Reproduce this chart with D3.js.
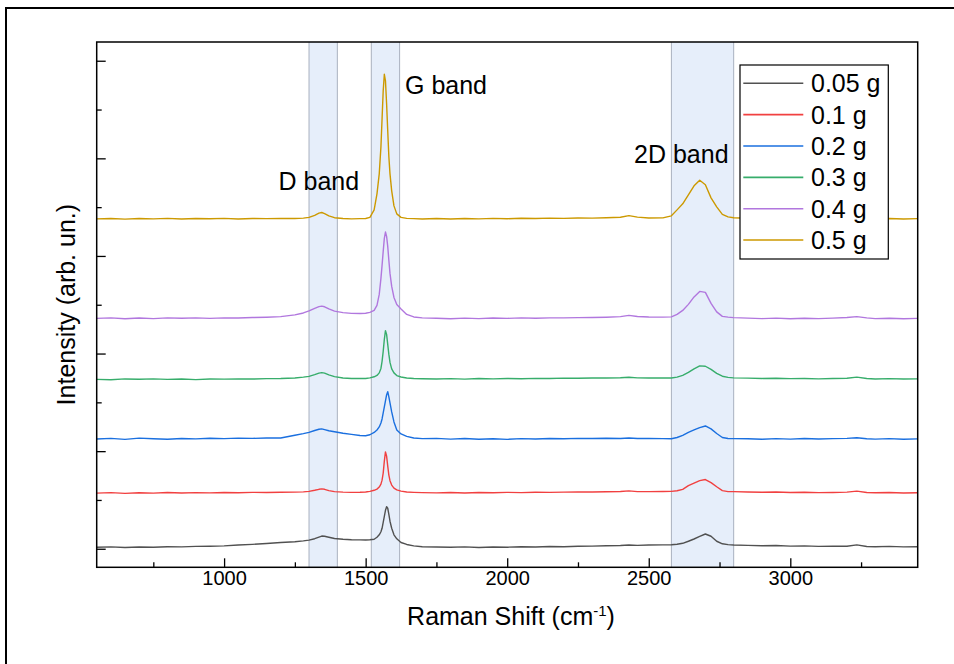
<!DOCTYPE html>
<html>
<head>
<meta charset="utf-8">
<script src="https://cdn.jsdelivr.net/npm/d3@7"></script>
<style>
body { margin: 0; background: #fff; }
svg text { font-family: "Liberation Sans", Arial, sans-serif; fill: #000; }
</style>
</head>
<body>
<div class="chart"></div>
<script>
// Raman shift grid (cm-1), denser around the peaks
const shift = [
  550, 600, 650, 700, 750, 800, 850, 900, 950, 1000, 1050, 1100, 1150, 1200,
  1250, 1280, 1300, 1320, 1335, 1345, 1355, 1370, 1390, 1420, 1450, 1480, 1500, 1515, 1530, 1540,
  1548, 1554, 1558, 1562, 1566, 1570, 1574, 1578, 1582, 1586, 1592, 1600, 1610, 1625, 1645, 1670, 1700,
  1750, 1800, 1850, 1900, 1950, 2000, 2050, 2100, 2150, 2200, 2250, 2300, 2350, 2400, 2430, 2460, 2500, 2550,
  2580, 2600, 2620, 2640, 2660, 2680, 2700, 2720, 2740, 2760, 2780, 2800,
  2850, 2900, 2950, 3000, 3050, 3100, 3150, 3200, 3235, 3270, 3300, 3350, 3400, 3450
];

// intensities (arb. un.) above each trace's own baseline
const g005 = [
  0, 4, -2, 3, 1, 5, 4, 9, 11, 15, 23, 30, 39, 49,
  57, 66, 74, 88, 105, 115, 113, 103, 90, 82, 78, 76, 75, 78, 82, 103,
  128, 159, 195, 256, 318, 379, 416, 400, 338, 267, 195, 128, 87, 49, 29, 15, 6,
  3, 0, 4, -2, 3, 1, 6, 3, 8, 5, 10, 12, 16, 19, 23, 20, 24, 25,
  26, 31, 41, 62, 85, 111, 136, 113, 62, 36, 27, 24,
  20, 16, 18, 12, 14, 9, 11, 10, 25, 8, 6, 9, 4, 6
];
const g01 = [
  0, 5, -3, 4, 0, 6, 2, 5, 3, 7, 4, 8, 6, 9,
  10, 13, 18, 29, 39, 43, 39, 26, 15, 10, 8, 9, 12, 18, 29, 41,
  62, 92, 133, 205, 328, 423, 379, 277, 185, 128, 82, 51, 33, 21, 12, 8, 5,
  3, 6, 2, 7, 4, 8, 5, 9, 8, 10, 12, 11, 14, 16, 23, 15, 15, 16,
  18, 24, 39, 77, 103, 128, 139, 108, 65, 26, 15, 15,
  12, 9, 11, 6, 9, 5, 7, 10, 20, 7, 4, 6, 2, 4
];
const g02 = [
  0, 6, -4, 8, 2, -3, 5, 1, 7, 3, 8, 6, 9, 10,
  38, 54, 68, 87, 99, 103, 96, 84, 74, 59, 47, 35, 33, 43, 67, 92,
  123, 164, 205, 267, 328, 390, 451, 485, 431, 369, 277, 174, 92, 51, 26, 10, 3,
  6, -2, 4, -3, 2, -4, 3, 0, 5, 2, 6, 4, 7, 5, 10, 4, 6, 3,
  2, 15, 36, 67, 92, 116, 133, 103, 56, 15, 5, 3,
  2, -3, 3, -2, 4, 0, 3, 6, 12, 2, -2, 3, -3, 1
];
const g03 = [
  0, -4, 5, 1, 6, 0, 4, -2, 5, 3, 6, 4, 8, 9,
  15, 23, 31, 49, 65, 70, 64, 47, 29, 15, 10, 9, 10, 16, 27, 41,
  67, 113, 185, 287, 410, 500, 461, 359, 256, 174, 108, 67, 39, 25, 15, 10, 7,
  4, 8, 3, 9, 6, 10, 7, 11, 9, 13, 12, 15, 14, 17, 22, 16, 15, 14,
  15, 24, 41, 72, 108, 139, 135, 103, 62, 33, 21, 16,
  13, 10, 12, 8, 10, 6, 9, 12, 23, 9, 5, 8, 4, 6
];
const g04 = [
  0, 5, -3, 4, -2, 6, 1, 5, 0, 6, 4, 9, 12, 18,
  36, 56, 77, 103, 121, 126, 119, 97, 75, 59, 52, 50, 53, 62, 82, 133,
  246, 410, 543, 687, 820, 885, 840, 738, 594, 461, 328, 215, 143, 97, 41, 15, 5,
  2, -3, 3, -2, 4, 0, 5, 2, 6, 5, 8, 9, 12, 18, 31, 20, 15, 13,
  16, 41, 82, 144, 220, 277, 267, 154, 67, 21, 13, 8,
  3, -2, 3, -3, 2, -2, 3, 9, 18, 5, -2, 2, -3, 0
];
const g05 = [
  0, 4, -3, 3, 0, 5, -2, 3, 1, 5, -1, 4, 2, 5,
  3, 8, 15, 36, 59, 65, 54, 31, 12, 3, 0, 2, 4, 15, 92, 256,
  461, 738, 1025, 1312, 1481, 1415, 1179, 902, 636, 461, 287, 133, 51, 15, 5, 2, -2,
  3, -2, 4, 0, 5, 1, 6, 3, 7, 5, 9, 8, 12, 16, 33, 18, 9, 10,
  31, 92, 154, 246, 338, 395, 349, 215, 123, 46, 20, 12,
  6, 2, 5, 0, 4, -2, 3, 5, 8, 2, -2, 3, -1, 2
];

const series = [g005, g01, g02, g03, g04, g05];
const names = ["0.05 g", "0.1 g", "0.2 g", "0.3 g", "0.4 g", "0.5 g"];
const offsets = [15, 570, 1125, 1735, 2360, 3380];
const colors = ["#515151", "#F14040", "#1A6FDF", "#37AD6B", "#B177DE", "#CC9900"];

const bands = [[1300, 1400], [1520, 1620], [2580, 2800]];
const bandNames = ["D band", "G band", "2D band"];

const xTicks = [1000, 1500, 2000, 2500, 3000];
const xMinor = [750, 1250, 1750, 2250, 2750, 3250];
const yTicks = [0, 1000, 2000, 3000, 4000, 5000];
const yMinor = [500, 1500, 2500, 3500, 4500];

const W = 954, H = 664;
const m = { top: 42, right: 36.3, bottom: 96.7, left: 96.7 };
const x0 = m.left, x1 = W - m.right, y0 = H - m.bottom, y1 = m.top;

const svg = d3.select(".chart").append("svg")
    .attr("width", W)
    .attr("height", H);

// outer frame of the figure
svg.append("rect")
    .attr("x", 6).attr("y", 8)
    .attr("width", 1000).attr("height", 700)
    .attr("fill", "none").attr("stroke", "#000").attr("stroke-width", 2);

const x = d3.scaleLinear().domain([550, 3450]).range([x0, x1]);
const y = d3.scaleLinear().domain([-190, 5192]).range([y0, y1]);

svg.append("clipPath").attr("id", "plotclip")
    .append("rect")
    .attr("x", x0).attr("y", y1)
    .attr("width", x1 - x0).attr("height", y0 - y1);

const plot = svg.append("g").attr("clip-path", "url(#plotclip)");

// shaded band regions
plot.selectAll(".band")
    .data(bands)
    .join("rect")
    .attr("class", "band")
    .attr("x", d => x(d[0]))
    .attr("y", y1)
    .attr("width", d => x(d[1]) - x(d[0]))
    .attr("height", y0 - y1)
    .attr("fill", "#e6eefa");

plot.selectAll(".bandedge")
    .data(bands.flat())
    .join("line")
    .attr("class", "bandedge")
    .attr("x1", d => x(d)).attr("x2", d => x(d))
    .attr("y1", y1).attr("y2", y0)
    .attr("stroke", "#a9b1bf").attr("stroke-width", 1);

const line = d3.line()
    .x((d, i) => x(shift[i]));

for (let s = 0; s < series.length; s++) {
    line.y(d => y(d + offsets[s]));
    plot.append("path")
        .datum(series[s])
        .attr("d", line)
        .attr("fill", "none")
        .attr("stroke", colors[s])
        .attr("stroke-width", 1.4)
        .attr("stroke-linejoin", "round");
}

// band labels
const labelPos = [[1477, 3675, "end"], [1639, 4656, "start"], [2448, 3955, "start"]];
svg.selectAll(".bandlabel")
    .data(bandNames)
    .join("text")
    .attr("class", "bandlabel")
    .attr("x", (d, i) => x(labelPos[i][0]))
    .attr("y", (d, i) => y(labelPos[i][1]))
    .attr("text-anchor", (d, i) => labelPos[i][2])
    .attr("font-size", 25)
    .text(d => d);

// legend
const lg = svg.append("g");
lg.append("rect")
    .attr("x", 740).attr("y", 65)
    .attr("width", 148.3).attr("height", 194)
    .attr("fill", "#fff").attr("stroke", "#000").attr("stroke-width", 1.2);
for (let i = 0; i < names.length; i++) {
    let cy = 83.3 + 31.35 * i;
    lg.append("line")
        .attr("x1", 743.3).attr("x2", 803.3)
        .attr("y1", cy).attr("y2", cy)
        .attr("stroke", colors[i]).attr("stroke-width", 1.6);
    lg.append("text")
        .attr("x", 811).attr("y", cy + 9)
        .attr("font-size", 25)
        .text(names[i]);
}

// axes
const gx = svg.append("g")
    .attr("transform", `translate(0,${y0})`)
    .call(d3.axisBottom(x).tickValues(xTicks).tickSizeInner(-9).tickSizeOuter(0)
        .tickPadding(4).tickFormat(d3.format("d")));
gx.selectAll("text").attr("font-size", 20).attr("fill", "#000");

const gxm = svg.append("g")
    .attr("transform", `translate(0,${y0})`)
    .call(d3.axisBottom(x).tickValues(xMinor).tickSizeInner(-5).tickSizeOuter(0).tickFormat(""));

const gy = svg.append("g")
    .attr("transform", `translate(${x0},0)`)
    .call(d3.axisLeft(y).tickValues(yTicks).tickSizeInner(-9).tickSizeOuter(0).tickFormat(""));

const gym = svg.append("g")
    .attr("transform", `translate(${x0},0)`)
    .call(d3.axisLeft(y).tickValues(yMinor).tickSizeInner(-5).tickSizeOuter(0).tickFormat(""));

[gx, gxm, gy, gym].forEach(g => {
    g.select(".domain").remove();
    g.selectAll("line").attr("stroke", "#000").attr("stroke-width", 1.3);
});

svg.append("rect")
    .attr("x", x0).attr("y", y1)
    .attr("width", x1 - x0).attr("height", y0 - y1)
    .attr("fill", "none").attr("stroke", "#000").attr("stroke-width", 1.5);

// axis titles
const xt = svg.append("text")
    .attr("x", 511).attr("y", 625)
    .attr("text-anchor", "middle")
    .attr("font-size", 25);
xt.append("tspan").text("Raman Shift (cm");
xt.append("tspan").attr("font-size", 15).attr("dy", -9).text("-1");
xt.append("tspan").attr("dy", 9).text(")");

svg.append("text")
    .attr("transform", `translate(75,${(y0 + y1) / 2}) rotate(-90)`)
    .attr("text-anchor", "middle")
    .attr("font-size", 25)
    .text("Intensity (arb. un.)");
</script>
</body>
</html>
